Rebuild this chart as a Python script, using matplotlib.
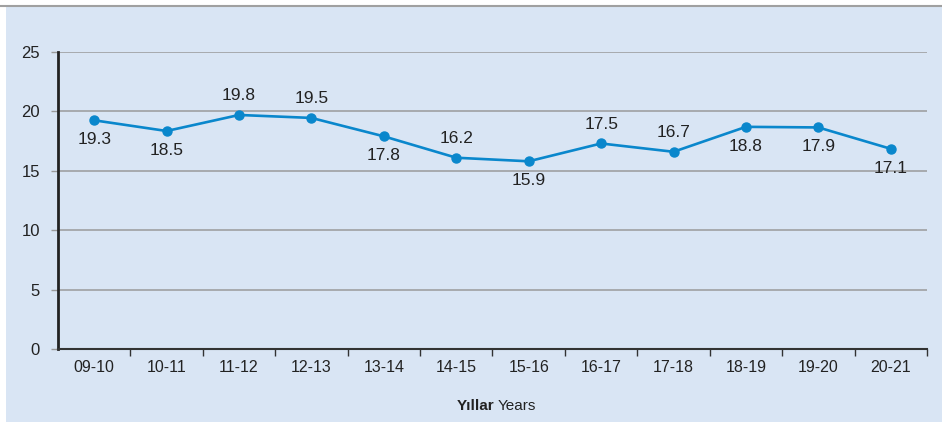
import matplotlib.pyplot as plt
from matplotlib.patches import Rectangle
from matplotlib.lines import Line2D

plt.rcParams['font.family'] = ['Liberation Sans', 'DejaVu Sans']

years = ["09-10", "10-11", "11-12", "12-13", "13-14", "14-15",
         "15-16", "16-17", "17-18", "18-19", "19-20", "20-21"]
# plotted positions (as drawn) and printed labels
values = [19.25, 18.35, 19.7, 19.45, 17.9, 16.1, 15.8, 17.3, 16.6, 18.7, 18.65, 16.85]
labels = ["19.3", "18.5", "19.8", "19.5", "17.8", "16.2",
          "15.9", "17.5", "16.7", "18.8", "17.9", "17.1"]
above = [False, False, True, True, False, True, False, True, True, False, False, False]

bg = "#d9e5f4"
blue = "#0a87cc"

fig = plt.figure(figsize=(9.42, 4.22), dpi=100)
fig.patch.set_facecolor("white")
W, H = 942.0, 422.0
fig.patches.append(Rectangle((6 / W, 0), 1 - 6 / W, 416 / H, transform=fig.transFigure,
                             facecolor=bg, edgecolor="none", zorder=-10))
fig.lines.append(Line2D([0, 1], [416 / H, 416 / H], transform=fig.transFigure,
                        color="#a0a0a0", lw=1.5, zorder=-5))

ax = fig.add_axes([58 / W, 1 - 349 / H, (927 - 58) / W, (349 - 52) / H])
ax.set_facecolor("none")
ax.set_zorder(2)

x = list(range(len(years)))
ax.plot(x, values, color=blue, lw=1.9, marker="o", markersize=6.5, zorder=3)

for xi, v, lab, up in zip(x, values, labels, above):
    ax.annotate(lab, (xi, v), xytext=(0, 14 if up else -14), textcoords="offset points",
                ha="center", va="center", fontsize=12.5, color="#222222")

ax.set_xlim(-0.5, len(years) - 0.5)
ax.set_ylim(0, 25)
ax.set_yticks([0, 5, 10, 15, 20, 25])
ax.yaxis.grid(True, color="#9a9a9a", lw=1.1)
ax.set_axisbelow(True)

ax.set_xticks(x)
ax.set_xticklabels(years)
ax.set_xticks([i + 0.5 for i in x], minor=True)
ax.tick_params(axis="x", which="major", length=0, pad=8, labelsize=11.5, colors="#222222")
ax.tick_params(axis="x", which="minor", length=5, width=1, color="#333333")
ax.tick_params(axis="y", length=5, width=1, color="#9a9a9a", labelsize=12,
               labelcolor="#222222", pad=8)

for s in ["top", "right"]:
    ax.spines[s].set_visible(False)
ax.spines["left"].set_color("#222222")
ax.spines["left"].set_linewidth(2)
ax.spines["bottom"].set_color("#333333")
ax.spines["bottom"].set_linewidth(1.5)

fig.text(494 / W, 1 - 406 / H, "Yıllar", ha="right", va="center",
         fontsize=11, fontweight="bold", color="#222222")
fig.text(498 / W, 1 - 406 / H, "Years", ha="left", va="center",
         fontsize=11, color="#222222")

fig.savefig("out.png", dpi=100, facecolor=fig.get_facecolor())
